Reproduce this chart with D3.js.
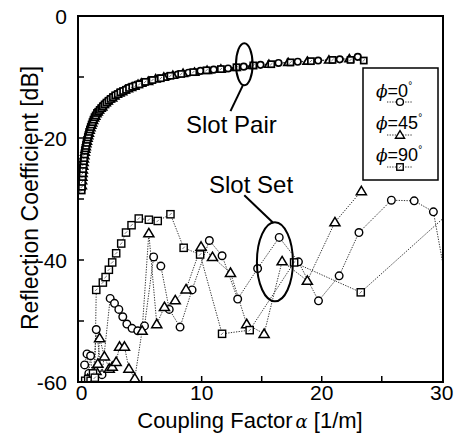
<!DOCTYPE html>
<html><head><meta charset="utf-8">
<script src="https://cdn.jsdelivr.net/npm/d3@7"></script>
<style>body{margin:0;background:#fff}svg{display:block}</style>
</head><body><svg id="c" width="470" height="446"></svg>
<script>
// ---------- DATA ----------
const xTicks = [0, 10, 20, 30];
const yTicks = [0, -20, -40, -60];
const xMinor = [5, 10, 15, 20, 25];
const yMinor = [-10, -20, -30, -40, -50];

// Slot pair (upper curve)
const pairAlpha0 = [0.02,0.04,0.06,0.08,0.1,0.13,0.16,0.19,0.22,0.26,0.3,0.34,0.38,0.43,0.48,0.53,0.59,0.65,0.71,0.78,0.85,0.93,1.01,1.1,1.2,1.3,1.41,1.53,1.66,1.8,1.95,2.11,2.28,2.46,2.65,2.85,3.06,3.28,3.51,3.75,4.0,4.27,4.55,4.85,5.25,5.85,6.5,7.2,8.0,8.9,9.9,11.0,12.2,13.5,14.9,16.4,18.0,19.7,21.5,23.0];
const pairDb0    = [-28.2,-27.4,-26.7,-26.1,-25.5,-24.9,-24.3,-23.7,-23.2,-22.6,-22.0,-21.6,-21.2,-20.7,-20.2,-19.8,-19.4,-18.9,-18.5,-18.1,-17.7,-17.3,-16.9,-16.5,-16.2,-15.9,-15.6,-15.3,-15.0,-14.7,-14.4,-14.1,-13.8,-13.5,-13.2,-13.0,-12.7,-12.5,-12.3,-12.0,-11.8,-11.6,-11.4,-11.1,-10.9,-10.5,-10.2,-9.9,-9.6,-9.3,-9.0,-8.8,-8.6,-8.3,-8.0,-7.7,-7.5,-7.3,-7.1,-6.7];
const pairAlpha45 = [0.03,0.05,0.07,0.09,0.115,0.145,0.175,0.205,0.24,0.28,0.32,0.36,0.405,0.455,0.505,0.56,0.62,0.68,0.745,0.815,0.89,0.97,1.055,1.15,1.25,1.355,1.47,1.595,1.73,1.875,2.03,2.195,2.37,2.555,2.75,2.955,3.17,3.395,3.63,3.875,4.135,4.41,4.7,4.97,5.55,6.17,6.85,7.6,8.45,9.4,10.45,11.6,12.85,14.2,15.6,17.2,18.8,20.6,22.3];
const pairDb45    = [-27.8,-27.0,-26.4,-25.8,-25.2,-24.6,-24.0,-23.4,-22.9,-22.3,-21.8,-21.4,-20.9,-20.5,-20.0,-19.6,-19.2,-18.7,-18.3,-17.9,-17.5,-17.1,-16.7,-16.4,-16.0,-15.7,-15.4,-15.1,-14.9,-14.5,-14.2,-13.9,-13.6,-13.4,-13.1,-12.8,-12.6,-12.4,-12.1,-11.9,-11.7,-11.5,-11.2,-11.0,-10.7,-10.3,-10.0,-9.7,-9.4,-9.2,-8.9,-8.7,-8.4,-8.1,-7.9,-7.6,-7.4,-7.2,-7.0];
const pairAlpha90 = [0.01,0.025,0.045,0.07,0.09,0.12,0.15,0.18,0.21,0.25,0.29,0.33,0.37,0.42,0.47,0.52,0.575,0.635,0.695,0.765,0.835,0.91,0.99,1.08,1.175,1.28,1.385,1.505,1.635,1.77,1.915,2.07,2.24,2.42,2.61,2.8,3.01,3.23,3.46,3.7,3.95,4.22,4.5,4.8,5.3,5.9,6.6,7.4,8.3,9.3,10.4,11.6,12.9,14.3,15.8,17.4,19.1,20.9,22.4,23.5];
const pairDb90    = [-28.6,-28.0,-27.2,-26.4,-25.8,-25.1,-24.4,-23.8,-23.3,-22.7,-22.1,-21.7,-21.3,-20.8,-20.3,-19.9,-19.5,-19.0,-18.6,-18.2,-17.8,-17.4,-17.0,-16.6,-16.3,-15.9,-15.7,-15.4,-15.1,-14.8,-14.5,-14.2,-13.9,-13.6,-13.3,-13.0,-12.8,-12.5,-12.3,-12.1,-11.8,-11.6,-11.4,-11.2,-10.8,-10.5,-10.2,-9.8,-9.5,-9.2,-8.9,-8.7,-8.4,-8.1,-7.9,-7.6,-7.4,-7.2,-7.2,-7.3];

// Slot set (lower curves)
const setAlpha0 = [0.25,0.45,0.6,0.75,0.9,1.0,1.22,1.7,2.38,2.74,3.1,3.43,3.77,4.2,4.68,5.24,6.0,6.6,7.3,8.2,9.2,10.64,11.7,13.0,14.66,16.46,18.06,19.73,21.45,23.1,25.8,27.7,29.3,30.5];
const setDb0    = [-57.2,-55.4,-58.6,-55.7,-59.5,-58.5,-51.4,-58.8,-46.3,-47.1,-48.1,-49.3,-50.5,-51.2,-51.6,-50.8,-39.5,-41.0,-48.1,-51.0,-44.9,-36.8,-39.3,-46.4,-41.4,-36.3,-40.3,-46.7,-42.6,-35.5,-30.2,-30.3,-32.1,-45.0];
const setAlpha45 = [0.5,0.9,1.2,1.35,1.5,1.9,2.3,2.55,2.88,3.16,3.57,3.94,4.43,5.04,5.6,6.26,6.9,7.8,8.7,9.95,10.9,12.4,13.75,15.2,16.7,18.8,21.1,23.3];
const setDb45    = [-59.5,-58.8,-58.2,-57.0,-52.8,-55.8,-57.8,-57.5,-56.7,-54.2,-54.2,-57.8,-59.4,-51.6,-35.6,-50.5,-47.7,-46.6,-44.8,-37.8,-39.5,-42.1,-50.5,-52.1,-40.2,-43.4,-33.8,-28.7];
const setAlpha90 = [0.3,0.55,0.75,0.95,1.1,1.22,1.77,2.0,2.27,2.55,2.88,3.3,3.7,4.16,4.76,5.6,6.34,7.4,8.5,9.87,11.7,14.0,17.7,23.25,31.0];
const setDb90    = [-59.8,-59.5,-59.8,-58.6,-59.3,-44.9,-43.7,-42.8,-41.6,-40.4,-38.9,-37.3,-35.5,-34.3,-33.2,-33.4,-33.6,-32.5,-38.0,-39.1,-52.1,-51.5,-40.4,-45.3,-31.6];

const legendLabels = ["0", "45", "90"];
const markerTypes = ["circle", "triangle", "square"];

// ---------- CHART ----------
const svg = d3.select("#c");
const x = d3.scaleLinear().domain([-0.3, 30.1]).range([78, 443]);
const y = d3.scaleLinear().domain([-60, 0]).range([382, 16]);
const font = "'Liberation Sans', Arial, Helvetica, sans-serif";

svg.append("defs").append("clipPath").attr("id","clip")
  .append("rect").attr("x", x.range()[0]).attr("y", y.range()[1])
  .attr("width", x.range()[1]-x.range()[0]).attr("height", y.range()[0]-y.range()[1]);

const series = [
  {a: pairAlpha0, d: pairDb0, m: "circle", k: 0.85, sw: 1.7},
  {a: pairAlpha45, d: pairDb45, m: "triangle", k: 0.85, sw: 1.7},
  {a: pairAlpha90, d: pairDb90, m: "square", k: 0.85, sw: 1.7},
  {a: setAlpha0, d: setDb0, m: "circle", k: 1, sw: 1.4},
  {a: setAlpha45, d: setDb45, m: "triangle", k: 1, sw: 1.5},
  {a: setAlpha90, d: setDb90, m: "square", k: 1, sw: 1.4},
];

const line = d3.line().x(p => x(p[0])).y(p => y(p[1]));
const gData = svg.append("g").attr("clip-path","url(#clip)");

function drawMarker(g, type, cx, cy, k, sw) {
  k = k || 1; sw = sw || 1.4;
  if (type === "circle") {
    g.append("circle").attr("cx", cx).attr("cy", cy).attr("r", 3.8*k)
      .attr("fill","#fff").attr("stroke","#000").attr("stroke-width",sw);
  } else if (type === "triangle") {
    const s = 4.8*k;
    g.append("path").attr("d", `M${cx},${cy-s}L${cx+s*1.05},${cy+s*0.75}L${cx-s*1.05},${cy+s*0.75}Z`)
      .attr("fill","#fff").attr("stroke","#000").attr("stroke-width",sw);
  } else {
    const s = 3.6*k;
    g.append("rect").attr("x", cx-s).attr("y", cy-s).attr("width", 2*s).attr("height", 2*s)
      .attr("fill","#fff").attr("stroke","#000").attr("stroke-width",sw);
    g.append("path").attr("d", `M${cx-1.2},${cy+1.2}L${cx+1.2},${cy-1.2}`)
      .attr("stroke","#555").attr("stroke-width",0.8);
  }
}

series.forEach(s => {
  const pts = s.a.map((v,i) => [v, s.d[i]]);
  gData.append("path").attr("d", line(pts)).attr("fill","none")
    .attr("stroke","#333").attr("stroke-width",1).attr("stroke-dasharray","1.3,1.3");
});
series.forEach(s => {
  const gm = gData.append("g");
  s.a.forEach((v,i) => drawMarker(gm, s.m, x(v), y(s.d[i]), s.k, s.sw));
});

// frame
svg.append("rect").attr("x", x.range()[0]).attr("y", y.range()[1])
  .attr("width", x.range()[1]-x.range()[0]).attr("height", y.range()[0]-y.range()[1])
  .attr("fill","none").attr("stroke","#000").attr("stroke-width",2);

// ticks (inward)
svg.append("g").selectAll("line").data(xMinor).join("line")
  .attr("x1", d => x(d)).attr("x2", d => x(d))
  .attr("y1", y(-60)).attr("y2", y(-60)-6).attr("stroke","#000").attr("stroke-width",1.5);
svg.append("g").selectAll("line").data(yMinor).join("line")
  .attr("y1", d => y(d)).attr("y2", d => y(d))
  .attr("x1", x.range()[0]).attr("x2", x.range()[0]+6).attr("stroke","#000").attr("stroke-width",1.5);

// tick labels
svg.append("g").selectAll("text").data(xTicks).join("text")
  .attr("x", d => x(d)).attr("y", 400).attr("text-anchor","middle")
  .attr("font-family", font).attr("font-size", 21).text(d => d);
svg.append("g").selectAll("text").data(yTicks).join("text")
  .attr("x", 67).attr("y", d => y(d)).attr("dy","0.36em").attr("text-anchor","end")
  .attr("font-family", font).attr("font-size", 21).text(d => d);

// axis titles
const xt = svg.append("text").attr("x", 250).attr("y", 428).attr("text-anchor","middle")
  .attr("font-family", font).attr("font-size", 22);
xt.append("tspan").text("Coupling Factor");
xt.append("tspan").attr("dx", 3).attr("font-style","italic").attr("font-family","'DejaVu Serif', serif").attr("font-size",18).text("α");
xt.append("tspan").text(" [1/m]");
svg.append("text").attr("transform","translate(38,198) rotate(-90)").attr("text-anchor","middle")
  .attr("font-family", font).attr("font-size", 23).text("Reflection Coefficient [dB]");

// annotations (in data units)
const annStroke = 2;
svg.append("ellipse").attr("cx", x(13.55)).attr("cy", y(-7.9)).attr("rx", 8.3).attr("ry", 21)
  .attr("fill","none").attr("stroke","#000").attr("stroke-width", annStroke);
svg.append("line").attr("x1", x(13.45)).attr("y1", y(-11.3)).attr("x2", x(12.4)).attr("y2", y(-15.6))
  .attr("stroke","#000").attr("stroke-width", annStroke);
svg.append("text").attr("x", 186).attr("y", 133).attr("font-family", font).attr("font-size", 24).text("Slot Pair");

svg.append("ellipse").attr("cx", x(16.1)).attr("cy", y(-40.3)).attr("rx", 18).attr("ry", 39.5)
  .attr("fill","none").attr("stroke","#000").attr("stroke-width", annStroke);
svg.append("line").attr("x1", x(13.55)).attr("y1", y(-29.4)).attr("x2", x(15.95)).attr("y2", y(-33.9))
  .attr("stroke","#000").attr("stroke-width", annStroke);
svg.append("text").attr("x", 209).attr("y", 193).attr("font-family", font).attr("font-size", 24).text("Slot Set");

// legend
const lg = svg.append("g");
lg.append("rect").attr("x", 363).attr("y", 68).attr("width", 75).attr("height", 112)
  .attr("fill","#fff").attr("stroke","#000").attr("stroke-width",1.5);
legendLabels.forEach((lab, i) => {
  const ty = 97 + i*32, my = 102 + i*32 + (i===0?0:1);
  const t = lg.append("text").attr("x", 376).attr("y", ty).attr("font-family", font).attr("font-size", 18);
  t.append("tspan").attr("font-family","'DejaVu Serif', serif").attr("font-style","italic").attr("font-size",17).text("ϕ");
  t.append("tspan").text("=" + lab);
  t.append("tspan").attr("dy", -8).attr("font-size", 10).text("°");
  lg.append("line").attr("x1", 387).attr("x2", 413).attr("y1", my).attr("y2", my)
    .attr("stroke","#333").attr("stroke-width",1).attr("stroke-dasharray","1.3,1.3");
  drawMarker(lg, markerTypes[i], 400, my, 0.9, 1.4);
});
</script></body></html>
